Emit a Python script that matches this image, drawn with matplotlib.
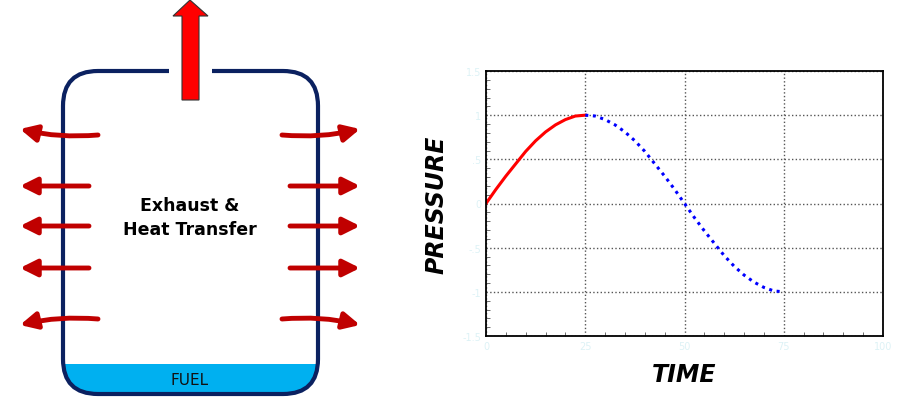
import numpy as np
import matplotlib.pyplot as plt
from matplotlib.patches import FancyBboxPatch, FancyArrowPatch, Polygon, Rectangle
from matplotlib.ticker import MultipleLocator

# pressure trace
t_burn = [0, 2.5, 5, 7.5, 10, 12.5, 15, 17.5, 20, 22.5, 25]
p_burn = [0, 0.16, 0.31, 0.45, 0.59, 0.71, 0.81, 0.89, 0.95, 0.99, 1.0]
t_cool = [25, 27.5, 30, 32.5, 35, 37.5, 40, 42.5, 45, 47.5, 50, 52.5, 55, 57.5, 60,
          62.5, 65, 67.5, 70, 72.5, 75]
p_cool = [1.0, 0.99, 0.95, 0.89, 0.81, 0.71, 0.59, 0.45, 0.31, 0.16, 0.0, -0.16,
          -0.31, -0.45, -0.59, -0.71, -0.81, -0.89, -0.95, -0.99, -1.0]
y_ticks = [-1.5, -1, -0.5, 0, 0.5, 1, 1.5]
y_tick_labels = ['-1.5', '-1', '-.5', '0', '.5', '1', '1.5']

red = '#C00000'
navy = '#0B2160'

fig = plt.figure(figsize=(9, 4.02), dpi=100)

# ---- left diagram, drawn in pixel coordinates ----
d = fig.add_axes([0, 0, 1, 1])
d.set_xlim(0, 900)
d.set_ylim(402, 0)
d.axis('off')

# fuel
fuel = FancyBboxPatch((64, 330), 253, 64, boxstyle='round,pad=0,rounding_size=34',
                      fc='#00B0F0', ec='none')
d.add_patch(fuel)
d.add_patch(Rectangle((63, 300), 256, 65, fc='white', ec='none'))
tank = FancyBboxPatch((63, 72), 255, 323, boxstyle='round,pad=0,rounding_size=35',
                      fc='none', ec=navy, lw=3)
d.add_patch(tank)
d.add_patch(Rectangle((169, 60), 43, 20, fc='white', ec='none'))
d.text(190, 381, 'FUEL', ha='center', va='center', fontsize=11, color='#111111')
d.text(190, 206, 'Exhaust &', ha='center', va='center', fontsize=12.5, fontweight='bold')
d.text(190, 230, 'Heat Transfer', ha='center', va='center', fontsize=12.5, fontweight='bold')

# exhaust arrow
d.add_patch(Polygon([(182, 101), (199, 101), (199, 17), (208, 17), (190, 1),
                     (173, 17), (182, 17)], closed=True, fc='#FF0000', ec='#333333', lw=0.8))

kw = dict(arrowstyle='-|>,head_length=10,head_width=5', color=red, lw=3.5,
          mutation_scale=1, shrinkA=0, shrinkB=0)
for y in [187, 227, 269]:
    d.add_patch(FancyArrowPatch((89, y), (20, y), **kw))
    d.add_patch(FancyArrowPatch((290, y), (360, y), **kw))
d.add_patch(FancyArrowPatch((98, 136), (20, 130), connectionstyle='arc3,rad=-0.08', **kw))
d.add_patch(FancyArrowPatch((98, 320), (20, 326), connectionstyle='arc3,rad=0.08', **kw))
d.add_patch(FancyArrowPatch((282, 136), (360, 130), connectionstyle='arc3,rad=0.08', **kw))
d.add_patch(FancyArrowPatch((282, 320), (360, 326), connectionstyle='arc3,rad=-0.08', **kw))

# ---- pressure plot ----
ax = fig.add_axes([486 / 900, 65 / 402, 397 / 900, 265 / 402])
ax.plot(t_burn, p_burn, color='red', lw=2.2)
ax.plot(t_cool, p_cool, color='blue', lw=2.2, ls=(0, (1, 1.5)))
ax.set_xlim(0, 100)
ax.set_ylim(-1.5, 1.5)
ax.xaxis.set_major_locator(MultipleLocator(25))
ax.set_yticks(y_ticks, y_tick_labels)
ax.xaxis.set_minor_locator(MultipleLocator(5))
ax.yaxis.set_minor_locator(MultipleLocator(0.1))
ax.tick_params(which='both', direction='in', top=False, right=False,
               labelcolor='#DDF2F6', labelsize=7, color='#555555')
ax.tick_params(which='major', length=0)
ax.tick_params(which='minor', length=3)
ax.grid(True, which='major', ls=':', color='#555555', lw=1)
for s in ax.spines.values():
    s.set_linewidth(1.3)
ax.set_ylabel('PRESSURE', fontsize=17, fontweight='bold', style='italic', labelpad=10)
ax.set_xlabel('TIME', fontsize=17, fontweight='bold', style='italic', labelpad=8)

fig.savefig('out.png', dpi=100)
